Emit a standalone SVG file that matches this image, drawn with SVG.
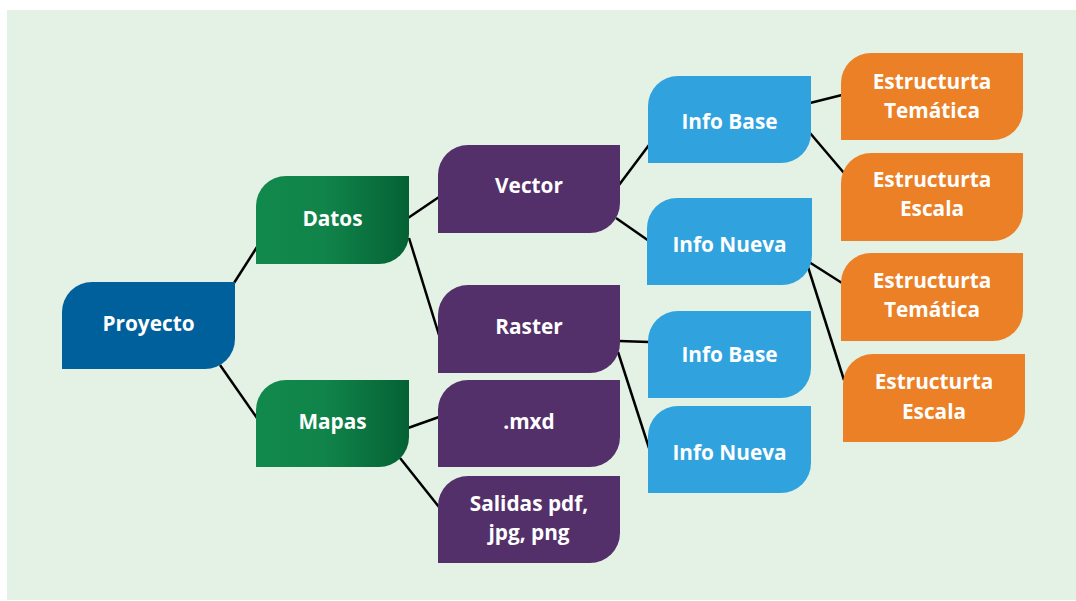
<svg xmlns="http://www.w3.org/2000/svg" width="1076" height="601" viewBox="0 0 1076 601">
<defs>
<linearGradient id="gGreen" x1="0" y1="0" x2="1" y2="0">
<stop offset="0" stop-color="#12894c"/>
<stop offset="0.45" stop-color="#10844a"/>
<stop offset="1" stop-color="#056134"/>
</linearGradient>
<style>
.t{font-family:"Open Sans","Liberation Sans",sans-serif;font-weight:700;font-size:20.8px;fill:#ffffff;text-anchor:middle}
.blue{fill:#00609c}
.green{fill:url(#gGreen)}
.purple{fill:#54306a}
.sky{fill:#30a3df}
.orange{fill:#eb8026}
#connectors line{stroke:#000;stroke-width:2.5;stroke-linecap:butt}
</style>
</defs>
<rect x="7" y="10" width="1069" height="590" fill="#e4f2e5"/>
<g id="connectors">
<line x1="234" y1="283" x2="257" y2="247"/>
<line x1="220" y1="365" x2="257" y2="418"/>
<line x1="408" y1="218" x2="439" y2="197"/>
<line x1="409" y1="238" x2="439" y2="335"/>
<line x1="408" y1="428" x2="439" y2="417"/>
<line x1="400" y1="458" x2="439" y2="507"/>
<line x1="619" y1="185" x2="649" y2="145"/>
<line x1="616" y1="218" x2="649" y2="241"/>
<line x1="619" y1="341" x2="649" y2="342"/>
<line x1="618" y1="352" x2="649" y2="448"/>
<line x1="810" y1="103" x2="842" y2="95"/>
<line x1="810" y1="133" x2="844" y2="173"/>
<line x1="809" y1="262" x2="842" y2="283"/>
<line x1="808" y1="267" x2="844" y2="380"/>
</g>
<g id="proyecto"><path class="blue" d="M92,282 H235 V339 A30,30 0 0 1 205,369 H62 V312 A30,30 0 0 1 92,282 Z"/><text class="t" x="148.5" y="331">Proyecto</text></g>
<g id="datos"><path class="green" d="M286,176 H409 V234 A30,30 0 0 1 379,264 H256 V206 A30,30 0 0 1 286,176 Z"/><text class="t" x="332.5" y="226">Datos</text></g>
<g id="mapas"><path class="green" d="M286,380 H409 V437 A30,30 0 0 1 379,467 H256 V410 A30,30 0 0 1 286,380 Z"/><text class="t" x="332.5" y="429">Mapas</text></g>
<g id="vector"><path class="purple" d="M468,145 H620 V203 A30,30 0 0 1 590,233 H438 V175 A30,30 0 0 1 468,145 Z"/><text class="t" x="529" y="193">Vector</text></g>
<g id="raster"><path class="purple" d="M468,285 H620 V343 A30,30 0 0 1 590,373 H438 V315 A30,30 0 0 1 468,285 Z"/><text class="t" x="529" y="334">Raster</text></g>
<g id="mxd"><path class="purple" d="M468,380 H620 V437 A30,30 0 0 1 590,467 H438 V410 A30,30 0 0 1 468,380 Z"/><text class="t" x="529" y="429">.mxd</text></g>
<g id="salidas"><path class="purple" d="M468,476 H620 V533 A30,30 0 0 1 590,563 H438 V506 A30,30 0 0 1 468,476 Z"/><text class="t" x="529" y="511">Salidas pdf,</text><text class="t" x="529" y="540">jpg, png</text></g>
<g id="infobase1"><path class="sky" d="M678,76 H811 V133 A30,30 0 0 1 781,163 H648 V106 A30,30 0 0 1 678,76 Z"/><text class="t" x="729.5" y="129">Info Base</text></g>
<g id="infonueva1"><path class="sky" d="M677,198 H812 V255 A30,30 0 0 1 782,285 H647 V228 A30,30 0 0 1 677,198 Z"/><text class="t" x="729.5" y="252">Info Nueva</text></g>
<g id="infobase2"><path class="sky" d="M678,311 H811 V368 A30,30 0 0 1 781,398 H648 V341 A30,30 0 0 1 678,311 Z"/><text class="t" x="729.5" y="362">Info Base</text></g>
<g id="infonueva2"><path class="sky" d="M678,406 H811 V463 A30,30 0 0 1 781,493 H648 V436 A30,30 0 0 1 678,406 Z"/><text class="t" x="729.5" y="460">Info Nueva</text></g>
<g id="estructura-tematica1"><path class="orange" d="M871,53 H1023 V110 A30,30 0 0 1 993,140 H841 V83 A30,30 0 0 1 871,53 Z"/><text class="t" x="932" y="89">Estructurta</text><text class="t" x="932" y="118">Temática</text></g>
<g id="estructura-escala1"><path class="orange" d="M871,153 H1023 V211 A30,30 0 0 1 993,241 H841 V183 A30,30 0 0 1 871,153 Z"/><text class="t" x="932" y="187">Estructurta</text><text class="t" x="932" y="216">Escala</text></g>
<g id="estructura-tematica2"><path class="orange" d="M871,253 H1023 V311 A30,30 0 0 1 993,341 H841 V283 A30,30 0 0 1 871,253 Z"/><text class="t" x="932" y="288">Estructurta</text><text class="t" x="932" y="317">Temática</text></g>
<g id="estructura-escala2"><path class="orange" d="M873,354 H1025 V412 A30,30 0 0 1 995,442 H843 V384 A30,30 0 0 1 873,354 Z"/><text class="t" x="934" y="389">Estructurta</text><text class="t" x="934" y="419">Escala</text></g>
</svg>
